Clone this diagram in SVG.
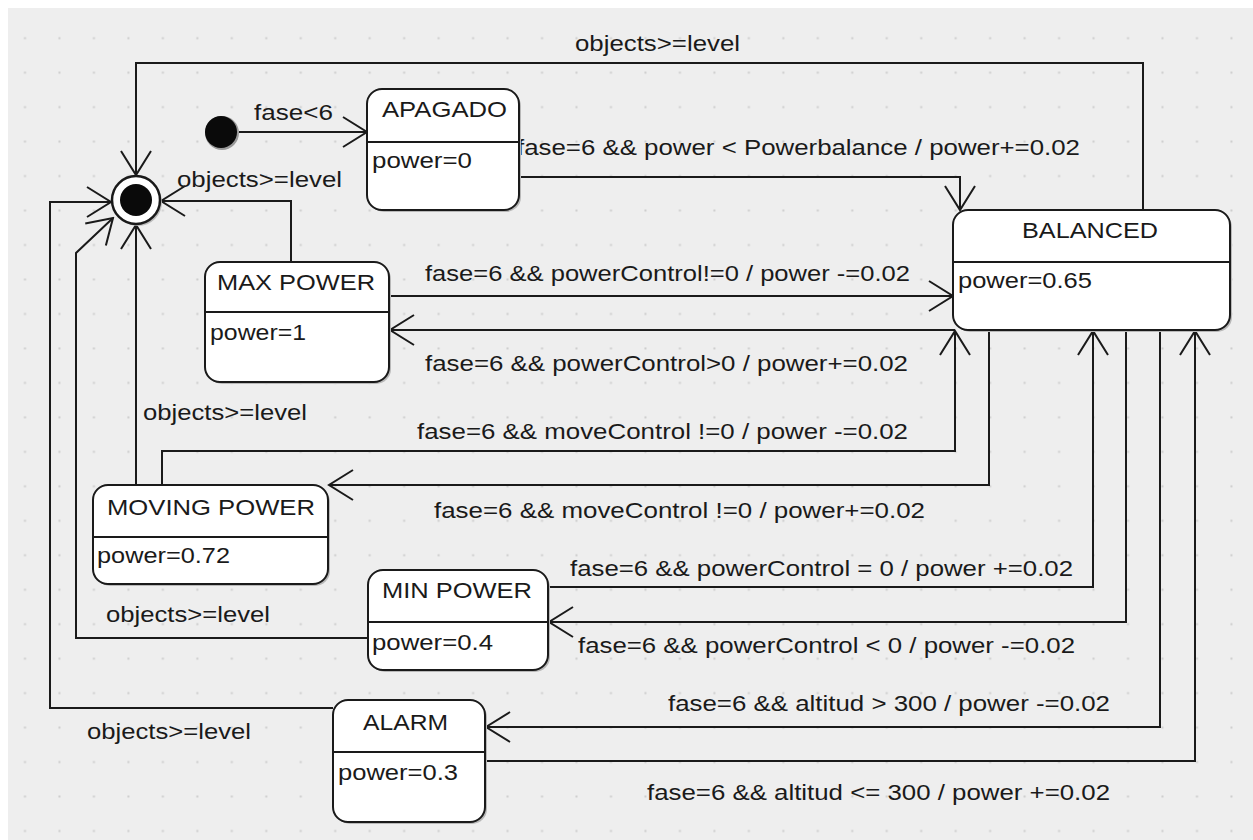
<svg xmlns="http://www.w3.org/2000/svg" width="1253" height="840" viewBox="0 0 1253 840">
<style>
.t{font-family:"Liberation Sans",Arial,sans-serif;font-size:22px;fill:#1a1a1a;}
.n{fill:#fff;stroke:#1a1a1a;stroke-width:2;}
.sh{fill:#b8b8b8;}
.c{fill:none;stroke:#1a1a1a;stroke-width:2;}
.a{marker-end:url(#arr);}
</style>
<defs>
<pattern id="dots" patternUnits="userSpaceOnUse" x="7.8" y="21" width="34.47" height="34.47">
<rect x="16.2" y="16.2" width="2" height="2" fill="#cdcdcd"/>
</pattern>
<marker id="arr" markerUnits="userSpaceOnUse" viewBox="-27 -17 29 34" refX="0" refY="0" markerWidth="29" markerHeight="34" orient="auto">
<path d="M-24,-15 L0,0 L-24,15" fill="none" stroke="#1a1a1a" stroke-width="2"/>
</marker>
</defs>
<rect x="0" y="0" width="1253" height="840" fill="#fff"/>
<rect x="8" y="8" width="1245" height="832" fill="#eeeeee"/>
<rect x="8" y="8" width="1245" height="832" fill="url(#dots)"/>

<g id="connectors">
<path class="c a" d="M1143,210 V63 H136 V175"/>
<path class="c a" d="M239,132 H367"/>
<path class="c a" d="M519,177 H960 V210"/>
<path class="c a" d="M291,262 V201 H161"/>
<path class="c a" d="M389,296 H953"/>
<path class="c a" d="M955,330 H390"/>
<path class="c a" d="M162,485 V451 H955 V331"/>
<path class="c a" d="M136,485 V225"/>
<path class="c a" d="M989,330 V485 H329"/>
<path class="c a" d="M548,587 H1093 V331"/>
<path class="c a" d="M1126,330 V622 H549"/>
<path class="c a" d="M368,638 H76 V253 L113,218"/>
<path class="c a" d="M333,708 H50 V202 H111"/>
<path class="c a" d="M1160,330 V727 H486"/>
<path class="c a" d="M485,761 H1195 V331"/>
</g>

<g id="labels">
<text class="t" x="575" y="51" textLength="165" lengthAdjust="spacingAndGlyphs">objects&gt;=level</text>
<text class="t" x="254" y="120" textLength="79" lengthAdjust="spacingAndGlyphs">fase&lt;6</text>
<text class="t" x="177" y="187" textLength="165" lengthAdjust="spacingAndGlyphs">objects&gt;=level</text>
<text class="t" x="517" y="155" textLength="563" lengthAdjust="spacingAndGlyphs">fase=6 &amp;&amp; power &lt; Powerbalance / power+=0.02</text>
<text class="t" x="425" y="281" textLength="485" lengthAdjust="spacingAndGlyphs">fase=6 &amp;&amp; powerControl!=0 / power -=0.02</text>
<text class="t" x="425" y="371" textLength="483" lengthAdjust="spacingAndGlyphs">fase=6 &amp;&amp; powerControl&gt;0 / power+=0.02</text>
<text class="t" x="143" y="420" textLength="164" lengthAdjust="spacingAndGlyphs">objects&gt;=level</text>
<text class="t" x="417" y="439" textLength="491" lengthAdjust="spacingAndGlyphs">fase=6 &amp;&amp; moveControl !=0 / power -=0.02</text>
<text class="t" x="434" y="518" textLength="491" lengthAdjust="spacingAndGlyphs">fase=6 &amp;&amp; moveControl !=0 / power+=0.02</text>
<text class="t" x="570" y="576" textLength="503" lengthAdjust="spacingAndGlyphs">fase=6 &amp;&amp; powerControl = 0 / power +=0.02</text>
<text class="t" x="578" y="653" textLength="497" lengthAdjust="spacingAndGlyphs">fase=6 &amp;&amp; powerControl &lt; 0 / power -=0.02</text>
<text class="t" x="106" y="622" textLength="164" lengthAdjust="spacingAndGlyphs">objects&gt;=level</text>
<text class="t" x="668" y="711" textLength="442" lengthAdjust="spacingAndGlyphs">fase=6 &amp;&amp; altitud &gt; 300 / power -=0.02</text>
<text class="t" x="87" y="739" textLength="164" lengthAdjust="spacingAndGlyphs">objects&gt;=level</text>
<text class="t" x="647" y="800" textLength="463" lengthAdjust="spacingAndGlyphs">fase=6 &amp;&amp; altitud &lt;= 300 / power +=0.02</text>
</g>

<g id="initial">
<circle cx="222" cy="133" r="17" fill="#999"/>
<circle cx="221" cy="132" r="16" fill="#0a0a0a"/>
</g>

<g id="final">
<circle cx="138" cy="202" r="24" fill="#bbb"/>
<circle cx="136" cy="200" r="24" fill="#fff" stroke="#1a1a1a" stroke-width="2.5"/>
<circle cx="136" cy="200" r="16" fill="#0a0a0a"/>
</g>

<g id="apagado">
<rect class="sh" x="369" y="91" width="152" height="121" rx="15"/>
<rect class="n" x="367" y="89" width="152" height="121" rx="15"/>
<line class="c" x1="367" y1="142" x2="519" y2="142"/>
<text class="t" x="382" y="117" textLength="125" lengthAdjust="spacingAndGlyphs">APAGADO</text>
<text class="t" x="372" y="168" textLength="100" lengthAdjust="spacingAndGlyphs">power=0</text>
</g>

<g id="balanced">
<rect class="sh" x="955" y="212" width="277" height="120" rx="15"/>
<rect class="n" x="953" y="210" width="277" height="120" rx="15"/>
<line class="c" x1="953" y1="262" x2="1230" y2="262"/>
<text class="t" x="1022" y="238" textLength="136" lengthAdjust="spacingAndGlyphs">BALANCED</text>
<text class="t" x="958" y="288" textLength="134" lengthAdjust="spacingAndGlyphs">power=0.65</text>
</g>

<g id="maxpower">
<rect class="sh" x="207" y="264" width="184" height="120" rx="15"/>
<rect class="n" x="205" y="262" width="184" height="120" rx="15"/>
<line class="c" x1="205" y1="312" x2="389" y2="312"/>
<text class="t" x="217" y="290" textLength="158" lengthAdjust="spacingAndGlyphs">MAX POWER</text>
<text class="t" x="210" y="340" textLength="96" lengthAdjust="spacingAndGlyphs">power=1</text>
</g>

<g id="movingpower">
<rect class="sh" x="95" y="487" width="235" height="99" rx="15"/>
<rect class="n" x="93" y="485" width="235" height="99" rx="15"/>
<line class="c" x1="93" y1="537" x2="328" y2="537"/>
<text class="t" x="107" y="515" textLength="208" lengthAdjust="spacingAndGlyphs">MOVING POWER</text>
<text class="t" x="97" y="563" textLength="133" lengthAdjust="spacingAndGlyphs">power=0.72</text>
</g>

<g id="minpower">
<rect class="sh" x="370" y="572" width="180" height="100" rx="15"/>
<rect class="n" x="368" y="570" width="180" height="100" rx="15"/>
<line class="c" x1="368" y1="622" x2="548" y2="622"/>
<text class="t" x="382" y="598" textLength="150" lengthAdjust="spacingAndGlyphs">MIN POWER</text>
<text class="t" x="372" y="650" textLength="121" lengthAdjust="spacingAndGlyphs">power=0.4</text>
</g>

<g id="alarm">
<rect class="sh" x="335" y="702" width="152" height="122" rx="15"/>
<rect class="n" x="333" y="700" width="152" height="122" rx="15"/>
<line class="c" x1="333" y1="752" x2="485" y2="752"/>
<text class="t" x="363" y="730" textLength="85" lengthAdjust="spacingAndGlyphs">ALARM</text>
<text class="t" x="338" y="780" textLength="120" lengthAdjust="spacingAndGlyphs">power=0.3</text>
</g>
</svg>
